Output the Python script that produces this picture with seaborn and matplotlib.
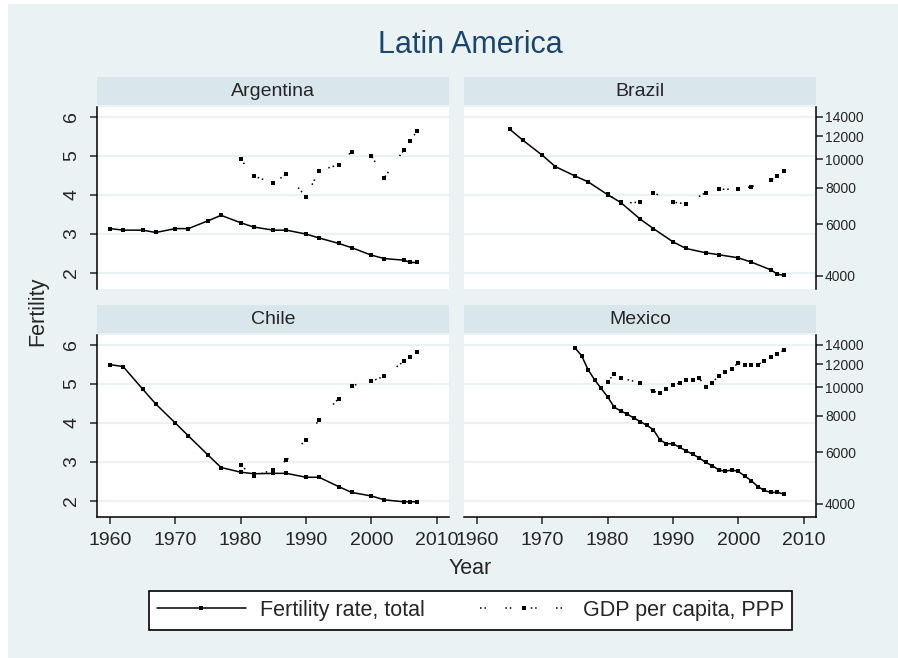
import numpy as np
import pandas as pd
import matplotlib
matplotlib.use("Agg")
import matplotlib.pyplot as plt
import seaborn as sns
from matplotlib.patches import Rectangle
from matplotlib.lines import Line2D
from matplotlib.ticker import NullLocator

# ---- data ----
countries = ["Argentina", "Brazil", "Chile", "Mexico"]

years_sparse = [1960, 1962, 1965, 1967, 1970, 1972, 1975, 1977, 1980, 1982, 1985,
                1987, 1990, 1992, 1995, 1997, 2000, 2002, 2005, 2006, 2007]
years_brazil = years_sparse[2:]
years_mexico = list(range(1975, 2008))

gdp_years = [1980, 1982, 1985, 1987, 1990, 1992, 1995, 1997, 2000, 2002, 2005, 2006, 2007]
gdp_years_mexico = [1980, 1981, 1982, 1985, 1987, 1988, 1989, 1990, 1991, 1992, 1993,
                    1994, 1995, 1996, 1997, 1998, 1999, 2000, 2001, 2002, 2003, 2004,
                    2005, 2006, 2007]

fert_argentina = [3.13, 3.09, 3.09, 3.03, 3.13, 3.13, 3.33, 3.47, 3.28, 3.17, 3.09,
                  3.09, 2.99, 2.89, 2.75, 2.64, 2.45, 2.36, 2.32, 2.26, 2.26]
fert_brazil = [5.68, 5.40, 5.01, 4.72, 4.48, 4.33, 4.00, 3.80, 3.37, 3.13, 2.79,
               2.62, 2.51, 2.46, 2.38, 2.27, 2.07, 1.96, 1.93]
fert_chile = [5.49, 5.44, 4.86, 4.48, 3.99, 3.66, 3.17, 2.85, 2.73, 2.69, 2.70,
              2.70, 2.60, 2.60, 2.36, 2.21, 2.12, 2.02, 1.97, 1.97, 1.97]
fert_mexico = [5.92, 5.72, 5.36, 5.10, 4.88, 4.66, 4.40, 4.30, 4.22, 4.12, 4.03,
               3.93, 3.82, 3.56, 3.46, 3.46, 3.37, 3.28, 3.19, 3.10, 2.98, 2.90,
               2.79, 2.75, 2.79, 2.75, 2.63, 2.51, 2.36, 2.26, 2.21, 2.21, 2.17]

gdp_argentina = [10000, 8770, 8280, 8910, 7450, 9130, 9590, 10630, 10300, 8650,
                 10770, 11590, 12500]
gdp_brazil = [7600, 7070, 7140, 7690, 7140, 7040, 7690, 7900, 7900, 8060, 8500,
              8770, 9130]
gdp_chile = [5410, 4960, 5230, 5630, 6620, 7750, 9150, 10130, 10490, 10910, 12280,
             12670, 13220]
gdp_mexico = [10440, 11140, 10770, 10350, 9690, 9570, 9880, 10160, 10350, 10630,
              10630, 10770, 10000, 10350, 10970, 11260, 11590, 12120, 11960, 11960,
              11960, 12280, 12710, 13050, 13390]

fert_ticks = [2, 3, 4, 5, 6]
gdp_ticks = [4000, 6000, 8000, 10000, 12000, 14000]
year_ticks = [1960, 1970, 1980, 1990, 2000, 2010]

fert = pd.concat([
    pd.DataFrame({"country": c, "year": y, "value": v})
    for c, y, v in zip(countries,
                       [years_sparse, years_brazil, years_sparse, years_mexico],
                       [fert_argentina, fert_brazil, fert_chile, fert_mexico])
])
gdp = pd.concat([
    pd.DataFrame({"country": c, "year": y, "value": v})
    for c, y, v in zip(countries,
                       [gdp_years, gdp_years, gdp_years, gdp_years_mexico],
                       [gdp_argentina, gdp_brazil, gdp_chile, gdp_mexico])
])

# ---- styling ----
sns.set_style("white")
plt.rcParams["font.family"] = ["Liberation Sans", "DejaVu Sans"]

BG = "#EAF2F3"
STRIP = "#D9E6EB"
NAVY = "#1A476F"
W, H = 898, 658
DOTS = (0, (1, 1.9, 1, 12.7))

fig = plt.figure(figsize=(W / 100, H / 100), dpi=100, facecolor="white")
fig.patches.append(Rectangle((8 / W, 0), 1, 1 - 4 / H, transform=fig.transFigure,
                             facecolor=BG, edgecolor="none", zorder=-10))


def px_rect(x0, y0, x1, y1):
    return [x0 / W, 1 - y1 / H, (x1 - x0) / W, (y1 - y0) / H]


panels = {
    "Argentina": (97, 107, 449, 289, 0, 0),
    "Brazil": (464, 107, 816, 289, 0, 1),
    "Chile": (97, 335, 449, 517, 1, 0),
    "Mexico": (464, 335, 816, 517, 1, 1),
}

for country, (x0, y0, x1, y1, row, col) in panels.items():
    # strip
    sax = fig.add_axes(px_rect(x0, y0 - 30, x1, y0 - 2))
    sax.set_facecolor(STRIP)
    sax.set_xticks([]); sax.set_yticks([])
    for s in sax.spines.values():
        s.set_visible(False)
    sax.text(0.5, 0.5, country, ha="center", va="center", fontsize=14,
             transform=sax.transAxes)

    ax = fig.add_axes(px_rect(x0, y0, x1, y1))
    ax.set_facecolor("white")
    sns.lineplot(data=fert[fert.country == country], x="year", y="value", ax=ax,
                 color="black", linewidth=1.1, marker="s", markersize=2.6,
                 markeredgewidth=0, errorbar=None)
    ax.set_xlim(1958.0, 2011.9)
    ax.set_ylim(1.58, 6.25)
    ax.set_yticks(fert_ticks)
    ax.set_xticks(year_ticks)
    ax.grid(axis="y", color=BG, linewidth=1.6)
    ax.set_axisbelow(True)
    ax.set_xlabel(""); ax.set_ylabel("")

    ax2 = ax.twinx()
    sns.lineplot(data=gdp[gdp.country == country], x="year", y="value", ax=ax2,
                 color="black", linewidth=1.1, linestyle=DOTS, marker="s",
                 markersize=3.4, markeredgewidth=0, errorbar=None)
    ax2.set_yscale("log")
    ax2.set_ylim(3600, 15100)
    ax2.set_yticks(gdp_ticks)
    ax2.set_yticklabels([str(t) for t in gdp_ticks])
    ax2.yaxis.set_minor_locator(NullLocator())
    ax2.set_xlim(1958.0, 2011.9)
    ax2.set_ylabel("")

    for a in (ax, ax2):
        for s in a.spines.values():
            s.set_visible(False)
            s.set_linewidth(1.1)
            s.set_color("black")

    # left axis (fertility)
    if col == 0:
        ax.spines["left"].set_visible(True)
        ax.tick_params(axis="y", left=True, length=5, width=1.1, pad=7,
                       labelsize=14, labelrotation=90)
        for lab in ax.get_yticklabels():
            lab.set_va("center")
    else:
        ax.tick_params(axis="y", left=False, labelleft=False)

    # right axis (gdp)
    if col == 1:
        ax2.spines["right"].set_visible(True)
        ax2.tick_params(axis="y", right=True, length=5, width=1.1, pad=1.5,
                        labelsize=10)
    else:
        ax2.tick_params(axis="y", right=False, labelright=False)

    # x axis
    if row == 1:
        ax.spines["bottom"].set_visible(True)
        ax.tick_params(axis="x", bottom=True, length=5, width=1.1, pad=6,
                       labelsize=14)
    else:
        ax.tick_params(axis="x", bottom=False, labelbottom=False)
    ax2.tick_params(axis="x", bottom=False, labelbottom=False)

fig.text(470 / W, 1 - 45 / H, "Latin America", ha="center", va="center",
         fontsize=22, color=NAVY)
fig.text(38 / W, 1 - 311 / H, "Fertility", ha="center", va="center",
         rotation=90, fontsize=15.5)
fig.text(470 / W, 1 - 568 / H, "Year", ha="center", va="center", fontsize=15.5)

handles = [
    Line2D([], [], color="black", linewidth=1.1, marker="s", markersize=2.6,
           markeredgewidth=0),
    Line2D([], [], color="black", linewidth=1.1, linestyle=DOTS, marker="s",
           markersize=3.4, markeredgewidth=0),
]
leg = fig.legend(handles, ["Fertility rate, total", "GDP per capita, PPP"],
                 loc="center", bbox_to_anchor=(470.5 / W, 1 - 610.5 / H), ncol=2,
                 fontsize=15.5, frameon=True, fancybox=False, framealpha=1,
                 edgecolor="black", facecolor="white", handlelength=4.1,
                 handletextpad=0.65, columnspacing=2.6, borderpad=0.4,
                 numpoints=1, borderaxespad=0)
leg.get_frame().set_linewidth(1.2)

fig.savefig("out.png", dpi=100, facecolor="white")
